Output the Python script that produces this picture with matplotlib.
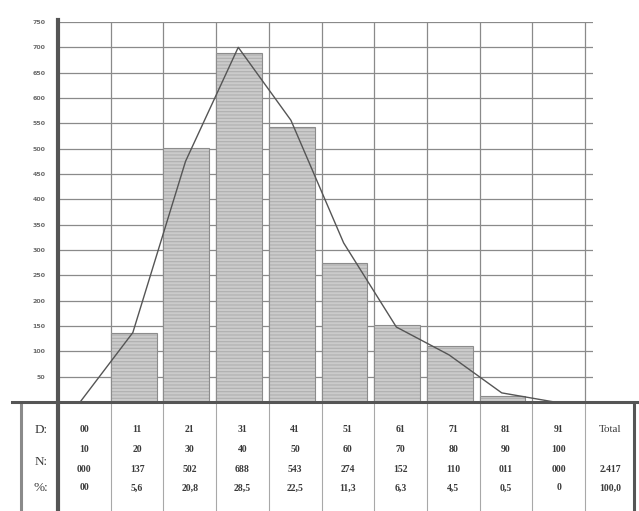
import numpy as np
import matplotlib.pyplot as plt

# classes and counts (table below the chart)
d_from = ["00", "11", "21", "31", "41", "51", "61", "71", "81", "91"]
d_to = ["10", "20", "30", "40", "50", "60", "70", "80", "90", "100"]
n_text = ["000", "137", "502", "688", "543", "274", "152", "110", "011", "000"]
pct_text = ["00", "5,6", "20,8", "28,5", "22,5", "11,3", "6,3", "4,5", "0,5", "0"]
counts = [0, 137, 502, 688, 543, 274, 152, 110, 11, 0]
total_n = "2.417"
total_pct = "100,0"

# frequency curve (at bar centres)
curve = [0, 137, 475, 700, 556, 314, 148, 93, 18, 0]

y_ticks = list(range(50, 800, 50))

W, H = 639, 511
fig = plt.figure(figsize=(W / 100, H / 100), dpi=100)

# chart axes: pixel 58..593 horizontally, 22..402 vertically
col_w = (585 - 58) / 10
ax = fig.add_axes([58 / W, (H - 402) / H, (593 - 58) / W, (402 - 22) / H])
ax.set_xlim(0, (593 - 58) / col_w)
ax.set_ylim(0, 750)

x = np.arange(len(counts))
plt.rcParams["hatch.linewidth"] = 0.8
ax.bar(x, counts, width=0.87, align="edge", color="#cbcbcb",
       edgecolor="#b0b0b0", hatch="-----", linewidth=0, zorder=2)
ax.bar(x, counts, width=0.87, align="edge", fill=False,
       edgecolor="#8c8c8c", linewidth=0.8, zorder=3)
ax.plot(x + 0.42, curve, color="#555555", lw=1.0, zorder=4)

ax.set_xticks(np.arange(0, 11))
ax.set_yticks(y_ticks)
ax.set_yticklabels([str(v) for v in y_ticks], fontsize=4.5, color="#6a6a6a",
                   fontweight="bold")
ax.tick_params(axis="y", length=0, pad=9)
ax.tick_params(axis="x", length=0, labelbottom=False)
ax.grid(True, color="#8a8a8a", lw=0.9, zorder=1)
ax.set_axisbelow(True)
for s in ax.spines.values():
    s.set_visible(False)

# table axes below, same horizontal scale as the chart
tx0 = (19 - 58) / col_w
tx1 = (637 - 58) / col_w
tab = fig.add_axes([19 / W, 0, (637 - 19) / W, (H - 402) / H])
tab.set_xlim(tx0, tx1)
tab.set_ylim(511, 402)
tab.axis("off")

for i in range(1, 11):
    tab.axvline(i, color="#a8a8a8", lw=0.8)
tab.axvline(tx0 + 0.03, color="#8a8a8a", lw=2.2)
tab.axvline(tx1 - 0.05, color="#555555", lw=2.2)

serif = ["Liberation Serif", "DejaVu Serif"]
txt = dict(ha="center", va="center", family=serif, color="#3a3a3a",
           fontsize=7, fontweight="bold")
for i in range(10):
    cx = i + 0.5
    tab.text(cx, 430, d_from[i], **txt)
    tab.text(cx, 449, d_to[i], **txt)
    tab.text(cx, 469, n_text[i], **txt)
    tab.text(cx, 488, pct_text[i], **txt)
tot_x = (610 - 58) / col_w
tab.text(tot_x, 430, "Total", **dict(txt, fontsize=8, fontweight="normal"))
tab.text(tot_x, 469, total_n, **txt)
tab.text(tot_x, 488, total_pct, **txt)

lab = dict(ha="center", va="center", family=serif, color="#3a3a3a",
           fontsize=9.5)
lx = (41 - 58) / col_w
tab.text(lx, 430, "D:", **lab)
tab.text(lx, 462, "N:", **lab)
tab.text(lx, 488, "%:", **lab)

# thick axis lines drawn across chart and table
fig.add_artist(plt.Line2D([12 / W, 637 / W], [(H - 402) / H] * 2,
                          color="#555555", lw=2.2))
fig.add_artist(plt.Line2D([58 / W] * 2, [0, (H - 20) / H],
                          color="#555555", lw=3.0))

fig.savefig("out.png", dpi=100)
